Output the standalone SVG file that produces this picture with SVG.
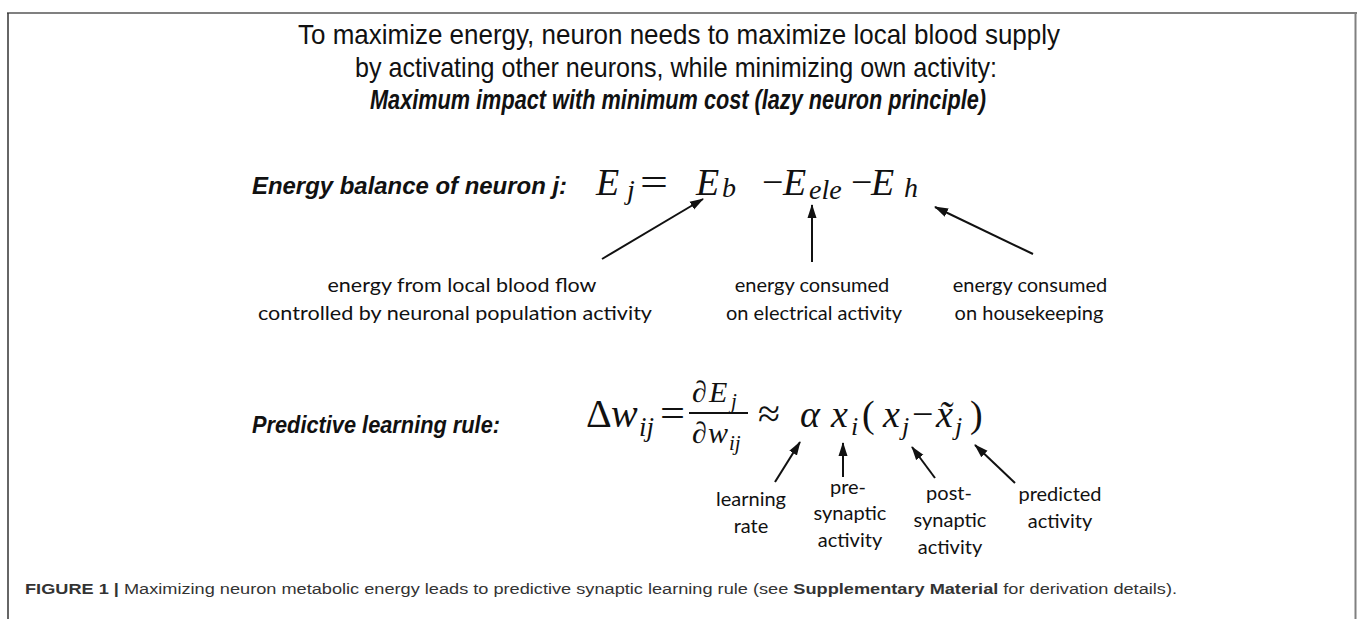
<svg xmlns="http://www.w3.org/2000/svg" width="1357" height="619" viewBox="0 0 1357 619">
<style>
.t{font-family:"Liberation Sans",Arial,sans-serif;font-size:28px;fill:#111;text-anchor:middle}
.bi{font-weight:bold;font-style:italic;font-size:27px}
.hd{font-family:"Liberation Sans",Arial,sans-serif;font-size:23px;font-weight:bold;font-style:italic;fill:#111}
.lbl{font-family:Lato,"Liberation Sans",sans-serif;font-size:20px;fill:#111;text-anchor:middle}
.m{font-family:"Liberation Serif","Times New Roman",serif;font-style:italic;fill:#111}
.mu{font-family:"Liberation Serif","Times New Roman",serif;fill:#111}
.cap{font-family:"Liberation Sans",Arial,sans-serif;font-size:15.5px;fill:#333}
.arr{stroke:#111;stroke-width:2;fill:none;marker-end:url(#ah)}
</style>
<defs>
<marker id="ah" markerWidth="14" markerHeight="10" refX="13" refY="5" orient="auto" markerUnits="userSpaceOnUse">
<path d="M0,0.5 L14,5 L0,9.5 Z" fill="#111"/>
</marker>
</defs>
<rect width="1357" height="619" fill="#fff"/>
<g id="frame">
<line x1="7" y1="13" x2="1357" y2="13" stroke="#808080" stroke-width="2"/>
<line x1="8" y1="13" x2="8" y2="619" stroke="#333" stroke-width="1.5"/>
<line x1="1355.5" y1="13" x2="1355.5" y2="619" stroke="#808080" stroke-width="2"/>
</g>
<g id="title">
<text class="t" x="679" y="44" textLength="762" lengthAdjust="spacingAndGlyphs">To maximize energy, neuron needs to maximize local blood supply</text>
<text class="t" x="676" y="77" textLength="642" lengthAdjust="spacingAndGlyphs">by activating other neurons, while minimizing own activity:</text>
<text class="t bi" x="678" y="109" textLength="616" lengthAdjust="spacingAndGlyphs">Maximum impact with minimum cost (lazy neuron principle)</text>
</g>
<g id="energy-balance">
<text class="hd" x="252" y="194" textLength="315" lengthAdjust="spacingAndGlyphs">Energy balance of neuron j:</text>
<text class="m" x="596" y="195" font-size="38">E</text>
<text class="m" x="627" y="199" font-size="28">j</text>
<text class="mu" x="640" y="195" font-size="38" textLength="28" lengthAdjust="spacingAndGlyphs">=</text>
<text class="m" x="696" y="195" font-size="38">E</text>
<text class="m" x="722" y="197" font-size="28">b</text>
<text class="mu" x="762" y="195" font-size="38">−</text>
<text class="m" x="783" y="195" font-size="38">E</text>
<text class="m" x="809" y="199" font-size="28">ele</text>
<text class="mu" x="851" y="195" font-size="38">−</text>
<text class="m" x="871" y="195" font-size="38">E</text>
<text class="m" x="904" y="197" font-size="28">h</text>
</g>
<g id="label-blood">
<text class="lbl" x="462" y="292" textLength="269" lengthAdjust="spacingAndGlyphs">energy from local blood flow</text>
<text class="lbl" x="455" y="320" textLength="394" lengthAdjust="spacingAndGlyphs">controlled by neuronal population activity</text>
</g>
<g id="label-electrical">
<text class="lbl" x="812" y="292">energy consumed</text>
<text class="lbl" x="814" y="320">on electrical activity</text>
</g>
<g id="label-housekeeping">
<text class="lbl" x="1030" y="292">energy consumed</text>
<text class="lbl" x="1029" y="320">on housekeeping</text>
</g>
<g id="learning-rule">
<text class="hd" x="252" y="433" textLength="248" lengthAdjust="spacingAndGlyphs">Predictive learning rule:</text>
<text class="mu" x="586" y="427" font-size="40">Δ</text>
<text class="m" x="611" y="427" font-size="40">w</text>
<text class="m" x="639" y="436" font-size="27">ij</text>
<text class="mu" x="660" y="427" font-size="40" textLength="25" lengthAdjust="spacingAndGlyphs">=</text>
<text class="mu" x="692" y="402" font-size="30">∂</text>
<text class="m" x="709" y="402" font-size="30">E</text>
<text class="m" x="731" y="408" font-size="21">j</text>
<line x1="689" y1="413" x2="748" y2="413" stroke="#111" stroke-width="2"/>
<text class="mu" x="692" y="443" font-size="30">∂</text>
<text class="m" x="708" y="443" font-size="30">w</text>
<text class="m" x="729" y="450" font-size="21">ij</text>
<text class="mu" x="758" y="427" font-size="40">≈</text>
<text class="m" x="800" y="427" font-size="38">α</text>
<text class="m" x="831" y="427" font-size="38">x</text>
<text class="m" x="851" y="435" font-size="26">i</text>
<text class="mu" x="862" y="427" font-size="38">(</text>
<text class="m" x="883" y="427" font-size="38">x</text>
<text class="m" x="902" y="435" font-size="26">j</text>
<text class="mu" x="912" y="427" font-size="38">−</text>
<text class="m" x="936" y="427" font-size="38">x̃</text>
<text class="m" x="955" y="435" font-size="26">j</text>
<text class="mu" x="970" y="427" font-size="38">)</text>
</g>
<g id="label-rate">
<text class="lbl" x="751" y="506">learning</text>
<text class="lbl" x="751" y="533">rate</text>
</g>
<g id="label-pre">
<text class="lbl" x="848" y="494">pre-</text>
<text class="lbl" x="850" y="520">synaptic</text>
<text class="lbl" x="850" y="547">activity</text>
</g>
<g id="label-post">
<text class="lbl" x="949" y="500">post-</text>
<text class="lbl" x="950" y="527">synaptic</text>
<text class="lbl" x="950" y="554">activity</text>
</g>
<g id="label-predicted">
<text class="lbl" x="1060" y="501">predicted</text>
<text class="lbl" x="1060" y="528">activity</text>
</g>
<g id="connectors">
<line class="arr" x1="602" y1="259" x2="703" y2="199"/>
<line class="arr" x1="812" y1="262" x2="812" y2="205"/>
<line class="arr" x1="1033" y1="254" x2="935" y2="207"/>
<line class="arr" x1="775" y1="482" x2="800" y2="442"/>
<line class="arr" x1="843" y1="477" x2="843" y2="443"/>
<line class="arr" x1="935" y1="478" x2="912" y2="447"/>
<line class="arr" x1="1015" y1="483" x2="975" y2="445"/>
</g>
<g id="caption">
<text class="cap" x="25" y="594" textLength="1152" lengthAdjust="spacingAndGlyphs"><tspan font-weight="bold">FIGURE 1 | </tspan>Maximizing neuron metabolic energy leads to predictive synaptic learning rule (see <tspan font-weight="bold">Supplementary Material</tspan> for derivation details).</text>
</g>
</svg>
